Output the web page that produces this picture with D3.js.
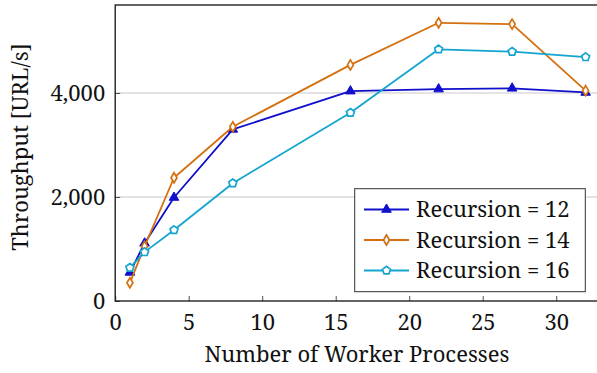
<!DOCTYPE html>
<html>
<head>
<meta charset="utf-8">
<script src="https://cdn.jsdelivr.net/npm/d3@7"></script>
<style>
  html, body { margin: 0; padding: 0; background: #fff; }
  svg { display: block; }
</style>
</head>
<body>
<svg id="chart" width="597" height="373"></svg>
<script>
// Worker-process counts (x) and measured throughput per recursion depth
const workers = [1, 2, 4, 8, 16, 22, 27, 32];
const recursion12 = [550, 1110, 1990, 3300, 4035, 4075, 4090, 4010];
const recursion14 = [350, 1050, 2370, 3350, 4540, 5350, 5325, 4045];
const recursion16 = [640, 940, 1365, 2265, 3620, 4840, 4795, 4690];
const seriesNames = ["Recursion = 12", "Recursion = 14", "Recursion = 16"];
const xTicks = [0, 5, 10, 15, 20, 25, 30];
const yTicks = [0, 2000, 4000];

const FONT = '"Noto Serif"';
const colors = ["#1010cc", "#d4700f", "#13a5d0"];
const markers = ["triangle", "diamond", "pentagon"];
const series = [recursion12, recursion14, recursion16].map((vals, i) => ({
  name: seriesNames[i],
  color: colors[i],
  marker: markers[i],
  points: workers.map((w, j) => ({ x: w, y: vals[j] }))
}));

const svg = d3.select("#chart");
const plotLeft = 115.2, plotRight = 608.4, plotTop = 5, plotBottom = 301;

const x = d3.scaleLinear().domain([0, 33.55]).range([plotLeft, plotRight]);
const y = d3.scaleLinear().domain([0, 5692]).range([plotBottom, plotTop]);

// horizontal grid
svg.append("g")
  .selectAll("line")
  .data(yTicks.filter(d => d > 0))
  .join("line")
  .attr("x1", plotLeft).attr("x2", plotRight)
  .attr("y1", d => y(d)).attr("y2", d => y(d))
  .attr("stroke", "#c8c8c8").attr("stroke-width", 1);

// axes with inward ticks
const xAxis = svg.append("g")
  .attr("transform", `translate(0,${plotBottom})`)
  .call(d3.axisBottom(x).tickValues(xTicks).tickSizeInner(-5).tickSizeOuter(0).tickPadding(9).tickFormat(d3.format("d")));
const yAxis = svg.append("g")
  .attr("transform", `translate(${plotLeft},0)`)
  .call(d3.axisLeft(y).tickValues(yTicks).tickSizeInner(-5).tickSizeOuter(0).tickPadding(10).tickFormat(d3.format(",")));
[xAxis, yAxis].forEach(g => {
  g.attr("font-family", FONT).attr("font-size", 22);
  g.select(".domain").remove();
  g.selectAll(".tick line").attr("stroke", "#222").attr("stroke-width", 0.8);
  g.selectAll(".tick text").attr("fill", "#111");
});
xAxis.selectAll(".tick text").attr("dy", "0.9em");

// plot frame
svg.append("rect")
  .attr("x", plotLeft).attr("y", plotTop)
  .attr("width", plotRight - plotLeft).attr("height", plotBottom - plotTop)
  .attr("fill", "none").attr("stroke", "#111").attr("stroke-width", 1.3);

// marker shapes
function pentagonPath(r) {
  const pts = d3.range(5).map(k => {
    const a = -Math.PI / 2 + k * 2 * Math.PI / 5;
    return [r * Math.cos(a), r * Math.sin(a)];
  });
  return "M" + pts.map(p => p.join(",")).join("L") + "Z";
}
const triangleSymbol = d3.symbol().type(d3.symbolTriangle).size(40);
function drawMarker(g, s) {
  if (s.marker === "triangle") {
    g.append("path").attr("d", triangleSymbol()).attr("fill", s.color).attr("stroke", s.color).attr("stroke-width", 1);
  } else if (s.marker === "diamond") {
    g.append("path").attr("d", "M0,-5L3,0L0,5L-3,0Z").attr("fill", "#fff").attr("stroke", s.color).attr("stroke-width", 1.7);
  } else {
    g.append("path").attr("d", pentagonPath(4.2)).attr("fill", "#fff").attr("stroke", s.color).attr("stroke-width", 1.7);
  }
}

const line = d3.line().x(d => x(d.x)).y(d => y(d.y));
series.forEach(s => {
  const g = svg.append("g");
  g.append("path").datum(s.points)
    .attr("d", line).attr("fill", "none")
    .attr("stroke", s.color).attr("stroke-width", 1.8).attr("stroke-linejoin", "round");
  g.selectAll("g.m").data(s.points).join("g").attr("class", "m")
    .attr("transform", d => `translate(${x(d.x)},${y(d.y)})`)
    .each(function () { drawMarker(d3.select(this), s); });
});

// axis titles
svg.append("text")
  .attr("x", 357).attr("y", 362)
  .attr("text-anchor", "middle")
  .attr("font-family", FONT).attr("font-size", 22).attr("fill", "#111")
  .text("Number of Worker Processes");
svg.append("text")
  .attr("transform", `translate(28,147) rotate(-90)`)
  .attr("text-anchor", "middle")
  .attr("font-family", FONT).attr("font-size", 22).attr("fill", "#111")
  .text("Throughput [URL/s]");

// legend
const lg = svg.append("g");
lg.append("rect")
  .attr("x", 354.7).attr("y", 188.7).attr("width", 230.6).attr("height", 103)
  .attr("fill", "#fff").attr("stroke", "#333").attr("stroke-width", 1);
series.forEach((s, i) => {
  const cy = 209.5 + i * 30.5;
  const row = lg.append("g");
  row.append("line").attr("x1", 364).attr("x2", 409).attr("y1", cy).attr("y2", cy)
    .attr("stroke", s.color).attr("stroke-width", 1.8);
  const m = row.append("g").attr("transform", `translate(386.5,${cy})`);
  drawMarker(m, s);
  row.append("text").attr("x", 416).attr("y", cy).attr("dy", "0.35em")
    .attr("font-family", FONT).attr("font-size", 22).attr("fill", "#111")
    .text(s.name);
});
</script>
</body>
</html>
